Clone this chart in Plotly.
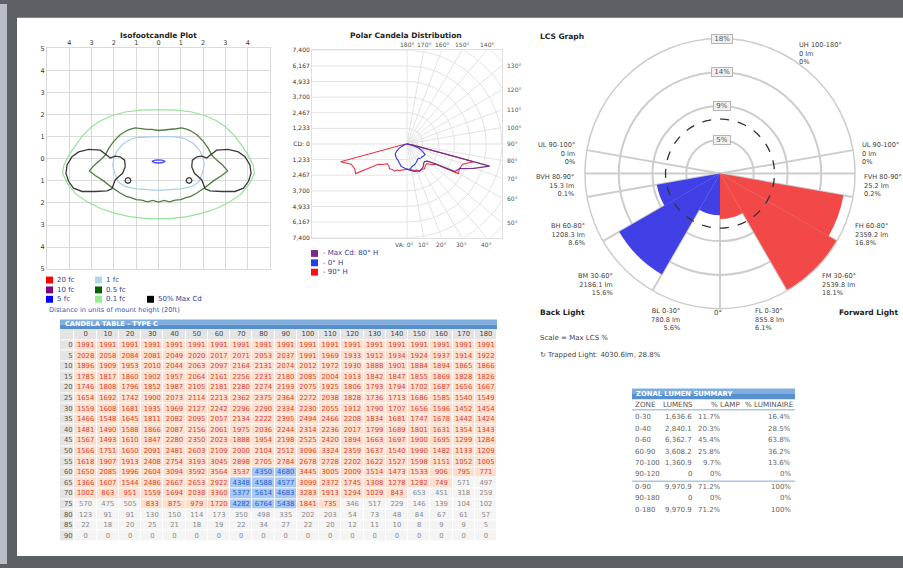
import numpy as np
import plotly.graph_objects as go

W, H = 903, 568
FONT = "DejaVu Sans"


def PX(x):
    return x / W


def PY(y):
    return 1 - y / H


# ---------------------------------------------------------------- DATA
# Candela table (Type C): rows = vertical angle, columns = horizontal angle
h_angles = [0, 10, 20, 30, 40, 50, 60, 70, 80, 90, 100, 110, 120, 130, 140, 150, 160, 170, 180]
v_angles = [0, 5, 10, 15, 20, 25, 30, 35, 40, 45, 50, 55, 60, 65, 70, 75, 80, 85, 90]
cd_v00 = [1991, 1991, 1991, 1991, 1991, 1991, 1991, 1991, 1991, 1991, 1991, 1991, 1991, 1991, 1991, 1991, 1991, 1991, 1991]
cd_v05 = [2028, 2058, 2084, 2081, 2049, 2020, 2017, 2071, 2053, 2037, 1991, 1969, 1933, 1912, 1934, 1924, 1937, 1914, 1922]
cd_v10 = [1896, 1909, 1953, 2010, 2044, 2063, 2097, 2164, 2131, 2074, 2012, 1972, 1930, 1888, 1901, 1884, 1894, 1865, 1866]
cd_v15 = [1785, 1817, 1860, 1902, 1957, 2064, 2161, 2256, 2231, 2180, 2085, 2004, 1913, 1842, 1847, 1855, 1869, 1828, 1826]
cd_v20 = [1746, 1808, 1796, 1852, 1987, 2105, 2181, 2280, 2274, 2193, 2075, 1925, 1806, 1793, 1794, 1702, 1687, 1656, 1667]
cd_v25 = [1654, 1692, 1742, 1900, 2073, 2114, 2213, 2362, 2375, 2364, 2272, 2038, 1828, 1736, 1713, 1686, 1585, 1540, 1549]
cd_v30 = [1559, 1608, 1681, 1935, 1969, 2127, 2242, 2296, 2290, 2334, 2230, 2055, 1912, 1790, 1707, 1656, 1596, 1452, 1454]
cd_v35 = [1466, 1548, 1645, 1811, 2082, 2095, 2057, 2134, 2222, 2395, 2494, 2466, 2208, 1834, 1681, 1747, 1678, 1442, 1424]
cd_v40 = [1481, 1490, 1588, 1866, 2087, 2156, 2061, 1975, 2036, 2244, 2314, 2236, 2017, 1799, 1689, 1801, 1631, 1354, 1343]
cd_v45 = [1567, 1493, 1610, 1847, 2280, 2350, 2023, 1888, 1954, 2198, 2525, 2420, 1894, 1663, 1697, 1900, 1695, 1299, 1284]
cd_v50 = [1566, 1751, 1650, 2091, 2481, 2603, 2109, 2000, 2104, 2512, 3096, 3324, 2359, 1637, 1540, 1990, 1482, 1133, 1209]
cd_v55 = [1618, 1907, 1913, 2408, 2754, 3193, 3045, 2898, 2705, 2784, 2678, 2728, 2202, 1622, 1527, 1598, 1151, 1052, 1005]
cd_v60 = [1650, 2085, 1996, 2604, 3094, 3592, 3564, 3537, 4350, 4680, 3445, 3005, 2009, 1514, 1473, 1533, 906, 795, 771]
cd_v65 = [1366, 1607, 1544, 2486, 2667, 2653, 2922, 4348, 4588, 4577, 3099, 2372, 1745, 1308, 1278, 1282, 749, 571, 497]
cd_v70 = [1002, 863, 951, 1559, 1694, 2038, 3360, 5377, 5614, 4683, 3283, 1913, 1294, 1029, 843, 653, 451, 318, 259]
cd_v75 = [570, 475, 505, 833, 875, 979, 1720, 4282, 6764, 5438, 1841, 735, 346, 517, 229, 146, 139, 104, 102]
cd_v80 = [123, 91, 91, 130, 150, 114, 173, 350, 498, 335, 202, 203, 54, 73, 48, 84, 67, 61, 57]
cd_v85 = [22, 18, 20, 25, 21, 18, 19, 22, 34, 27, 22, 20, 12, 11, 10, 8, 9, 9, 5]
cd_v90 = [0, 0, 0, 0, 0, 0, 0, 0, 0, 0, 0, 0, 0, 0, 0, 0, 0, 0, 0]
candela = [cd_v00, cd_v05, cd_v10, cd_v15, cd_v20, cd_v25, cd_v30, cd_v35, cd_v40, cd_v45,
           cd_v50, cd_v55, cd_v60, cd_v65, cd_v70, cd_v75, cd_v80, cd_v85, cd_v90]

# Isofootcandle contours (mount-height units), left half from top centre to bottom centre
fc01_x = [0, -0.8, -1.5, -2.1, -2.6, -3.0, -3.4, -3.7, -4.0, -4.25, -4.3, -4.1, -3.7, -3.2, -2.6, -2.0, -1.3, -0.6, 0]
fc01_y = [2.22, 2.2, 2.12, 1.95, 1.72, 1.45, 1.05, 0.65, 0.2, -0.3, -0.65, -1.1, -1.6, -1.95, -2.25, -2.45, -2.62, -2.7, -2.72]
fc05_x = [0, -0.3, -0.52, -0.8, -1.04, -1.25, -1.42, -1.72, -2.01, -2.24, -2.39, -2.61, -2.87, -3.10,
          -2.84, -2.46, -2.09, -1.72, -1.45, -1.27, -1.0, -0.75, -0.5, -0.25, 0]
fc05_y = [1.28, 1.33, 1.33, 1.36, 1.40, 1.34, 1.28, 1.09, 0.79, 0.46, 0.16, -0.06, -0.28, -0.55,
          -0.76, -1.0, -1.30, -1.55, -1.70, -1.75, -1.85, -1.87, -1.95, -1.88, -1.96]
fc1_x = [0, -0.6, -0.9, -1.2, -1.57, -1.87, -2.0, -2.05, -1.95, -1.8, -1.5, -1.0, -0.5, 0]
fc1_y = [1.0, 1.0, 0.97, 0.91, 0.69, 0.34, 0.05, -0.3, -0.7, -1.05, -1.25, -1.36, -1.4, -1.43]
fc5_x = [-0.3, -0.15, 0, 0.15, 0.3, 0.15, 0, -0.15, -0.3]
fc5_y = [-0.12, -0.06, -0.05, -0.06, -0.12, -0.18, -0.19, -0.18, -0.12]
cd50_lobe_x = [-2.31, -2.61, -3.13, -3.58, -3.88, -4.10, -4.15, -4.03, -3.81, -3.43, -2.84, -2.31, -2.09,
               -2.01, -1.94, -1.79, -1.61, -1.49, -1.52, -1.72, -1.94, -2.16, -2.31]
cd50_lobe_y = [0.16, 0.39, 0.43, 0.31, 0.09, -0.28, -0.66, -1.03, -1.33, -1.48, -1.48, -1.45, -1.36,
               -1.18, -0.96, -0.81, -0.66, -0.36, -0.06, 0.09, 0.12, 0.04, 0.16]
cd50_dot_x = [-1.37, -1.28, -1.24, -1.28, -1.37, -1.46, -1.5, -1.46, -1.37]
cd50_dot_y = [-0.85, -0.89, -0.98, -1.07, -1.11, -1.07, -0.98, -0.89, -0.85]
iso_legend_labels = ["20 fc", "10 fc", "5 fc", "1 fc", "0.5 fc", "0.1 fc", "50% Max Cd"]
iso_legend_colors = ["#ff0000", "#800080", "#0000ff", "#add8e6", "#006400", "#90ee90", "#000000"]

# LCS (luminaire classification system)
back_names = ["BL", "BM", "BH", "BVH"]
fwd_names = ["FL", "FM", "FH", "FVH"]
zone_ranges = [(0, 30), (30, 60), (60, 80), (80, 90)]
back_lumens = [780.8, 2186.1, 1208.3, 15.3]
back_pct = [5.6, 15.6, 8.6, 0.1]
fwd_lumens = [855.8, 2539.8, 2359.2, 25.2]
fwd_pct = [6.1, 18.1, 16.8, 0.2]
up_names = ["UL", "UL", "UH"]
up_ranges = ["90-100°", "90-100°", "100-180°"]
up_lumens = [0, 0, 0]
up_pct = [0, 0, 0]
trapped_lm = 4030.6
trapped_pct = 28.8

# Zonal lumen summary
zl_zone = ["0-30", "0-40", "0-60", "60-90", "70-100", "90-120", "0-90", "90-180", "0-180"]
zl_lumens = [1636.6, 2840.1, 6362.7, 3608.2, 1360.9, 0, 9970.9, 0, 9970.9]
zl_lamp = [11.7, 20.3, 45.4, 25.8, 9.7, 0, 71.2, 0, 71.2]
zl_lum = [16.4, 28.5, 63.8, 36.2, 13.6, 0, 100, 0, 100]

# ---------------------------------------------------------------- FIGURE
fig = go.Figure()
shapes = []
anns = []


def ann(x, y, text, size=7, color="#444", xa="center", ya="middle", bold=False, align="left", **kw):
    if bold:
        text = "<b>" + text + "</b>"
    d = dict(x=PX(x), y=PY(y), xref="paper", yref="paper", text=text, showarrow=False,
             font=dict(family=FONT, size=size, color=color), xanchor=xa, yanchor=ya, align=align)
    d.update(kw)
    anns.append(d)


def rect(x0, y0, x1, y1, color, line=None):
    shapes.append(dict(type="rect", xref="paper", yref="paper", x0=PX(x0), x1=PX(x1), y0=PY(y1), y1=PY(y0),
                       fillcolor=color, line=dict(width=0) if line is None else line, layer="below"))


def title_bar(x0, y0, x1, y1):
    ym = (y0 + y1) / 2
    rect(x0, y0, x1, ym, "#80ade0")
    rect(x0, ym, x1, y1, "#5790cc")


# page background
rect(0, 0, 7, 568, "#b8bdc5")
rect(17, 14, 903, 560, "#ffffff")

# ---------------- Isofootcandle plot (xaxis / yaxis)
def closed_mirror(xh, yh):
    x = list(xh) + [-v for v in reversed(xh)]
    y = list(yh) + list(reversed(yh))
    return x, y


for xh, yh, col, w in [(fc01_x, fc01_y, "#96e296", 1.2), (fc1_x, fc1_y, "#a8cfe8", 1.2),
                       (fc05_x, fc05_y, "#4d7f3c", 1.3)]:
    xx, yy = closed_mirror(xh, yh)
    fig.add_trace(go.Scatter(x=xx, y=yy, mode="lines", line=dict(color=col, width=w),
                             xaxis="x", yaxis="y", hoverinfo="skip"))
for xs, ys in [(cd50_lobe_x, cd50_lobe_y), (cd50_dot_x, cd50_dot_y)]:
    for sgn in (1, -1):
        fig.add_trace(go.Scatter(x=[sgn * v for v in xs], y=ys, mode="lines",
                                 line=dict(color="#3a3a3a", width=1.3), xaxis="x", yaxis="y", hoverinfo="skip"))
fig.add_trace(go.Scatter(x=fc5_x, y=fc5_y, mode="lines", line=dict(color="#4a4aff", width=1.3),
                         xaxis="x", yaxis="y", hoverinfo="skip"))

ann(158, 32, "Isofootcandle Plot", size=7.5, color="#222", bold=True)
leg_pos = [(46, 280), (46, 290), (46, 299.5), (95, 280), (95, 290), (95, 299.5), (147, 299.5)]
for (lx, ly), lab, col in zip(leg_pos, iso_legend_labels, iso_legend_colors):
    rect(lx, ly - 3.5, lx + 7, ly + 3.5, col)
    ann(lx + 9, ly, lab, size=7, color="#2c3d99", xa="left")
ann(47, 310, "Distance in units of mount height (20ft)", size=6.6, color="#3a55b8", xa="left")

# ---------------- Polar candela distribution (xaxis2 / yaxis2 grid + polar2 curves)
R_MAX = 7400
cd_step = R_MAX / 6
gx, gy = [], []
for a in range(0, 181, 10):
    t = np.radians(a)
    gx += [0, 2 * R_MAX * np.sin(t), None]
    gy += [0, -2 * R_MAX * np.cos(t), None]
arc_t = np.radians(np.arange(0, 181, 2))
for k in range(1, 10):
    r = k * cd_step
    gx += list(r * np.sin(arc_t)) + [None]
    gy += list(-r * np.cos(arc_t)) + [None]
for k in range(-6, 7):
    gx += [-R_MAX, 0, None]
    gy += [k * cd_step, k * cd_step, None]
fig.add_trace(go.Scatter(x=gx, y=gy, mode="lines", line=dict(color="#e3e3e3", width=1),
                         xaxis="x2", yaxis="y2", hoverinfo="skip"))

for a in range(0, 181, 10):
    t = np.radians(a)
    s, c = np.sin(t), -np.cos(t)
    sc = R_MAX / max(abs(s), abs(c))
    bx, by = sc * s, sc * c
    lab = f"{a}°"
    d = dict(x=bx, y=by, xref="x2", yref="y2", showarrow=False, font=dict(family=FONT, size=6, color="#555"))
    if a <= 40:
        d.update(yanchor="top", yshift=-1)
        if a == 0:
            d.update(text="VA: 0°", xanchor="right", xshift=8)
        else:
            d.update(text=lab)
    elif a <= 130:
        d.update(text=lab, xanchor="left", xshift=3)
    else:
        d.update(text=lab, yanchor="bottom", yshift=0)
    anns.append(d)


def col_of(h):
    j = h_angles.index(h)
    return [row[j] for row in candela]


left_theta = [360 - v for v in reversed(v_angles)]
fig.add_trace(go.Scatterpolar(r=col_of(90) + list(reversed(col_of(90))), theta=v_angles + left_theta,
                              mode="lines", line=dict(color="#ee3548", width=1.1), subplot="polar2",
                              hoverinfo="skip"))
fig.add_trace(go.Scatterpolar(r=col_of(0) + list(reversed(col_of(180))), theta=v_angles + left_theta,
                              mode="lines", line=dict(color="#3a45d6", width=1.2), subplot="polar2",
                              hoverinfo="skip"))
fig.add_trace(go.Scatterpolar(r=col_of(80), theta=v_angles, mode="lines",
                              line=dict(color="#74308c", width=1.2), subplot="polar2", hoverinfo="skip"))

ann(406, 32, "Polar Candela Distribution", size=7.5, color="#222", bold=True)
for i, (lab, col) in enumerate([("- Max Cd: 80° H", "#7a2a8c"), ("- 0° H", "#2040f0"), ("- 90° H", "#ff1010")]):
    yy = 253 + 9.5 * i
    rect(311, yy - 3.5, 318, yy + 3.5, col)
    ann(321, yy, lab, size=7, color="#2c3d99", xa="left")

# ---------------- Candela table (xaxis3 / yaxis3)
cd_max = max(max(r) for r in candela)
red_min = 0.10 * cd_max
blue_min = 0.60 * cd_max


def cat(v):
    return 3 if v >= blue_min else (2 if v >= red_min else 1)


z = [[0] * (len(h_angles) + 1)]
tx, ty, tt, tc = [], [], [], []
for j, h in enumerate(h_angles):
    tx.append(j + 0.5); ty.append(0); tt.append(str(h)); tc.append("#444")
for i, (va, row) in enumerate(zip(v_angles, candela)):
    z.append([0] + [cat(v) for v in row])
    for j, v in enumerate(row):
        tx.append(j + 0.5); ty.append(i + 1); tt.append(str(v))
        tc.append({1: "#8a8a8a", 2: "#d9442c", 3: "#2460d6"}[cat(v)])
c0, c1, c2, c3 = "#e4e4e4", "#f4f4f4", "#fcdfcf", "#a9c8f3"
fig.add_trace(go.Heatmap(z=z, x=[-0.65] + list(range(0, len(h_angles) + 1)), y=list(range(len(z))),
                         zmin=0, zmax=3, showscale=False, xgap=1, ygap=1, hoverinfo="skip",
                         colorscale=[[0, c0], [1 / 6, c0], [1 / 6, c1], [0.5, c1], [0.5, c2], [5 / 6, c2],
                                     [5 / 6, c3], [1, c3]], xaxis="x3", yaxis="y3"))
fig.add_trace(go.Scatter(x=tx, y=ty, text=tt, mode="text", textfont=dict(family=FONT, size=6.8, color=tc),
                         xaxis="x3", yaxis="y3", hoverinfo="skip"))
fig.add_trace(go.Scatter(x=[-0.08] * len(v_angles), y=list(range(1, len(v_angles) + 1)),
                         text=[str(v) for v in v_angles], mode="text", textposition="middle left",
                         textfont=dict(family=FONT, size=6.8, color="#555"), xaxis="x3", yaxis="y3",
                         hoverinfo="skip"))
title_bar(60, 320, 497, 330)
ann(63, 325, "CANDELA TABLE - TYPE C", size=6.6, color="#ffffff", xa="left", bold=True)

# ---------------- LCS graph (polar)
lcs_scale = max(fwd_pct + back_pct)
ring_vals = [lcs_scale * k / 4 for k in (1, 2, 3)]
fig.add_trace(go.Barpolar(r=fwd_pct, theta=[(a0 + a1) / 2 for a0, a1 in zone_ranges],
                          width=[a1 - a0 for a0, a1 in zone_ranges], marker=dict(color="#f24848", line=dict(width=0)),
                          subplot="polar", hoverinfo="skip"))
fig.add_trace(go.Barpolar(r=back_pct, theta=[360 - (a0 + a1) / 2 for a0, a1 in zone_ranges],
                          width=[a1 - a0 for a0, a1 in zone_ranges], marker=dict(color="#4040e6", line=dict(width=0)),
                          subplot="polar", hoverinfo="skip"))
TRAP_RING = 7.3
ring_t = list(np.arange(0, 361, 3))
fig.add_trace(go.Scatterpolar(r=[TRAP_RING] * len(ring_t), theta=ring_t, mode="lines",
                              line=dict(color="#333", width=1.3, dash="dash"), subplot="polar", hoverinfo="skip"))

LCS_CX, LCS_CY, LCS_R = 720, 172, 137
for v in ring_vals + [lcs_scale]:
    ann(LCS_CX + 2, LCS_CY - LCS_R * v / lcs_scale, f"&nbsp;{round(v)}%&nbsp;", size=7, color="#555",
        bordercolor="#b5b5b5", bgcolor="#f0f0f0", borderwidth=1, borderpad=0)

ann(538, 33, "LCS Graph", size=7.5, color="#222", xa="left", bold=True)
ann(538, 313, "Back Light", size=7.5, color="#222", xa="left", bold=True)
ann(900, 313, "Forward Light", size=7.5, color="#222", xa="right", bold=True)
ann(718, 313, "0°", size=7, color="#444")
ann(538, 339, "Scale = Max LCS %", size=7, color="#444", xa="left")
ann(538, 356, f"↻ Trapped Light: {trapped_lm}lm, {trapped_pct}%", size=7, color="#444", xa="left")


def lcs_text(name, rng, lm, pct):
    lm_s = "0" if lm == 0 else f"{lm}"
    pct_s = "0" if pct == 0 else f"{pct}"
    return f"{name} {rng}<br>{lm_s} lm<br>{pct_s}%"


back_lab_pos = [(682, 320), (615, 285), (587, 234), (576, 184)]
fwd_lab_pos = [(753, 320), (820, 285), (853, 234), (862, 184)]
for (x, y), n, (a0, a1), lm, p in zip(back_lab_pos, back_names, zone_ranges, back_lumens, back_pct):
    ann(x, y, lcs_text(n, f"{a0}-{a1}°", lm, p), size=6.6, color="#444", xa="right", align="right")
for (x, y), n, (a0, a1), lm, p in zip(fwd_lab_pos, fwd_names, zone_ranges, fwd_lumens, fwd_pct):
    ann(x, y, lcs_text(n, f"{a0}-{a1}°", lm, p), size=6.6, color="#444", xa="left", align="left")
up_lab_pos = [(577, 152, "right"), (860, 152, "left"), (797, 50, "left")]
for (x, y, a), n, rg, lm, p in zip(up_lab_pos, up_names, up_ranges, up_lumens, up_pct):
    ann(x, y, lcs_text(n, rg, lm, p), size=6.6, color="#444", xa=a, align=a)

# ---------------- Zonal lumen summary
title_bar(632, 390, 795, 401)
ann(634, 395.5, "ZONAL LUMEN SUMMARY", size=6.8, color="#ffffff", xa="left", bold=True)
ann(633, 406, "ZONE", size=7.2, color="#555", xa="left")
ann(695, 406, "LUMENS", size=7.2, color="#555", xa="right")
ann(742, 406, "% LAMP", size=7.2, color="#555", xa="right")
ann(796, 406, "% LUMINAIRE", size=7.2, color="#555", xa="right")
shapes.append(dict(type="line", xref="paper", yref="paper", x0=PX(632), x1=PX(795), y0=PY(411.5), y1=PY(411.5),
                   line=dict(color="#a9c6e3", width=1.5)))
shapes.append(dict(type="line", xref="paper", yref="paper", x0=PX(632), x1=PX(795), y0=PY(484), y1=PY(484),
                   line=dict(color="#a9c6e3", width=1.5)))
row_y = [419, 431, 442.5, 454, 466, 477, 490, 501.5, 513]


def pct_fmt(v):
    return "0%" if v == 0 else (f"{v:g}%")


for y, zn, lm, pl, pu in zip(row_y, zl_zone, zl_lumens, zl_lamp, zl_lum):
    ann(633, y, zn, size=7, color="#666", xa="left")
    ann(694, y, "0" if lm == 0 else f"{lm:,.1f}", size=7, color="#666", xa="right")
    ann(723, y, pct_fmt(pl), size=7, color="#666", xa="right")
    ann(793, y, pct_fmt(pu), size=7, color="#666", xa="right")

# ---------------------------------------------------------------- LAYOUT
axis_font = dict(family=FONT, size=6.5, color="#333")
fig.update_layout(
    width=W, height=H, autosize=False, margin=dict(l=0, r=0, t=0, b=0),
    paper_bgcolor="#5c5f64", plot_bgcolor="#ffffff", showlegend=False,
    font=dict(family=FONT),
    xaxis=dict(domain=[PX(47), PX(270)], range=[-5, 5], side="top", tickvals=list(range(-4, 5)),
               ticktext=[str(abs(v)) for v in range(-4, 5)], showgrid=True, gridcolor="#dadada",
               zeroline=False, showline=True, linecolor="#dadada", mirror=True, ticks="",
               tickfont=axis_font, fixedrange=True, anchor="y"),
    yaxis=dict(domain=[PY(269), PY(45)], range=[-5, 5], tickvals=list(range(-5, 6)),
               ticktext=[str(abs(v)) for v in range(-5, 6)], showgrid=True, gridcolor="#dadada",
               zeroline=False, showline=True, linecolor="#dadada", mirror=True, ticks="",
               tickfont=axis_font, fixedrange=True, anchor="x"),
    xaxis2=dict(domain=[PX(312), PX(502)], range=[-R_MAX, R_MAX], showgrid=False, zeroline=False,
                showticklabels=False, showline=True, linecolor="#e0e0e0", mirror=True, ticks="",
                anchor="y2"),
    yaxis2=dict(domain=[PY(237), PY(47)], range=[-R_MAX, R_MAX], showgrid=False, zeroline=False,
                tickvals=[k * cd_step for k in range(-6, 7)],
                ticktext=["CD: 0" if k == 0 else f"{abs(k) * cd_step:,.0f}" for k in range(-6, 7)],
                tickfont=dict(family=FONT, size=6, color="#333"), showline=True, linecolor="#e0e0e0",
                mirror=True, ticks="", anchor="x2"),
    xaxis3=dict(domain=[PX(60), PX(497)], range=[-0.65, len(h_angles)], visible=False, fixedrange=True,
                anchor="y3"),
    yaxis3=dict(domain=[PY(545), PY(330)], range=[len(v_angles) + 0.5, -0.5], visible=False, fixedrange=True,
                anchor="x3"),
    polar2=dict(domain=dict(x=[PX(312), PX(502)], y=[PY(237), PY(47)]), bgcolor="rgba(0,0,0,0)",
                angularaxis=dict(visible=False, rotation=270, direction="counterclockwise"),
                radialaxis=dict(visible=False, range=[0, R_MAX])),
    polar=dict(domain=dict(x=[PX(LCS_CX - LCS_R), PX(LCS_CX + LCS_R)],
                           y=[PY(LCS_CY + LCS_R), PY(LCS_CY - LCS_R)]),
               bgcolor="#ffffff", barmode="overlay", bargap=0,
               angularaxis=dict(rotation=270, direction="counterclockwise",
                                tickvals=[0, 30, 60, 80, 90, 100, 260, 270, 280, 300, 330],
                                showticklabels=False, ticks="", gridcolor="#cdcdcd", gridwidth=1.5,
                                linecolor="#cdcdcd", linewidth=1.5),
               radialaxis=dict(range=[0, lcs_scale], tickvals=ring_vals, showticklabels=False, ticks="",
                               showline=False, gridcolor="#cdcdcd", gridwidth=1.5)),
    shapes=shapes, annotations=anns,
)

fig.write_html("out.html", config={"displayModeBar": False},
               post_script="document.body.style.margin='0px';document.body.style.overflow='hidden';")
